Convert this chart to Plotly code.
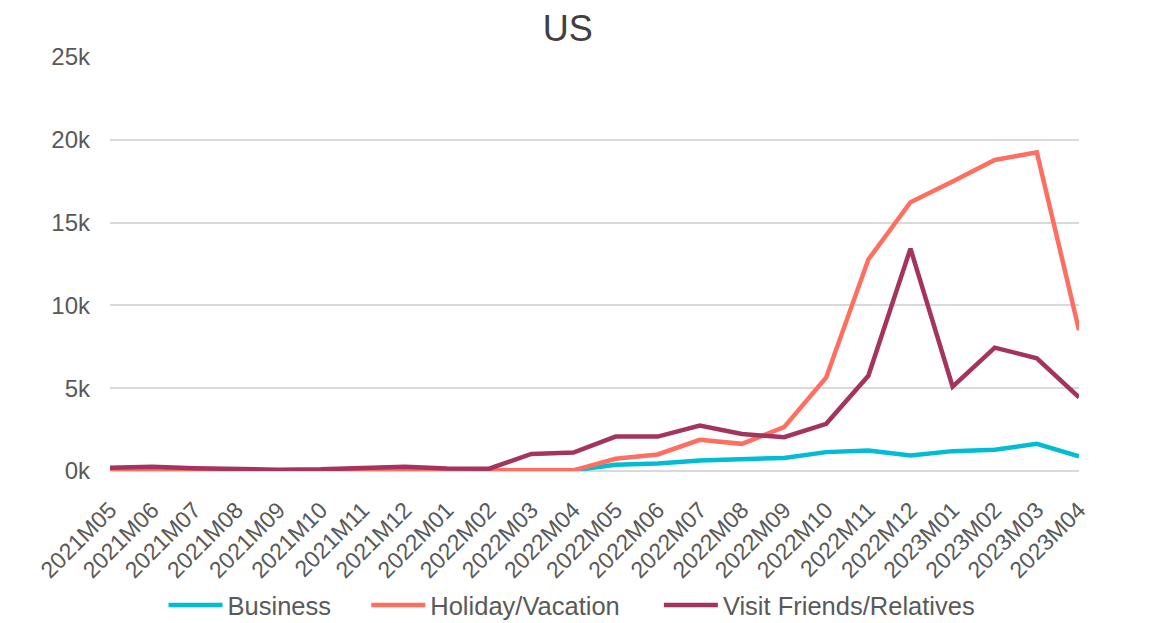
import plotly.graph_objects as go

months = ["2021M05","2021M06","2021M07","2021M08","2021M09","2021M10","2021M11","2021M12",
          "2022M01","2022M02","2022M03","2022M04","2022M05","2022M06","2022M07","2022M08",
          "2022M09","2022M10","2022M11","2022M12","2023M01","2023M02","2023M03","2023M04"]

business = [20, 20, 20, 20, 20, 20, 20, 20, 20, 20, 30, 40, 380, 460, 640, 700,
            790, 1140, 1240, 940, 1200, 1290, 1640, 880]
holiday = [40, 50, 50, 40, 40, 40, 50, 50, 40, 40, 40, 40, 740, 1000, 1880, 1640,
           2650, 5650, 12770, 16230, 17480, 18780, 19240, 8500]
visit = [200, 250, 170, 120, 80, 100, 200, 260, 150, 140, 1030, 1110, 2080, 2080, 2750, 2240,
         2040, 2850, 5750, 13430, 5090, 7450, 6810, 4450]

y_ticks = [0, 5000, 10000, 15000, 20000, 25000]
y_labels = ["0k", "5k", "10k", "15k", "20k", "25k"]

FONT = "Liberation Sans, Arial, sans-serif"
GRAY = "#595959"

series = [("Business", business, "#00BCD4", "legend"),
          ("Holiday/Vacation", holiday, "#FF6F61", "legend2"),
          ("Visit Friends/Relatives", visit, "#A4345E", "legend3")]

fig = go.Figure()
for name, vals, color, lg in series:
    fig.add_trace(go.Scatter(x=months, y=vals, mode="lines", name=name, legend=lg,
                             line=dict(color=color, width=4.5)))

def legend_at(xpos):
    return dict(orientation="h", x=xpos, xanchor="left", y=0.041, yanchor="middle",
                xref="container", yref="container", bgcolor="rgba(0,0,0,0)",
                font=dict(family=FONT, size=25.5, color=GRAY), itemwidth=54)

fig.update_layout(
    width=1152, height=623,
    paper_bgcolor="white", plot_bgcolor="white",
    margin=dict(l=102, r=81, t=49, b=160, autoexpand=False),
    title=dict(text="US", x=0.486, xanchor="center", y=0.968, yanchor="middle",
               font=dict(family=FONT, size=36, color="#404040")),
    font=dict(family=FONT, color=GRAY),
    showlegend=True,
    legend=legend_at(0.135),
    legend2=legend_at(0.311),
    legend3=legend_at(0.565),
    xaxis=dict(type="category", range=[0, len(months) - 1], tickangle=-45,
               tickfont=dict(family=FONT, size=23, color=GRAY), automargin=False,
               showgrid=False, showline=False, zeroline=False, ticks="",
               ticklabelstandoff=20),
    yaxis=dict(range=[0, 25000], tickvals=y_ticks, ticktext=y_labels, automargin=False,
               tickfont=dict(family=FONT, size=24, color=GRAY),
               showgrid=True, gridcolor="#D9D9D9", gridwidth=1.5,
               zeroline=True, zerolinecolor="#D9D9D9", zerolinewidth=1.5,
               showline=False, ticks="", ticklabelstandoff=19),
)

fig.write_html("out.html")
